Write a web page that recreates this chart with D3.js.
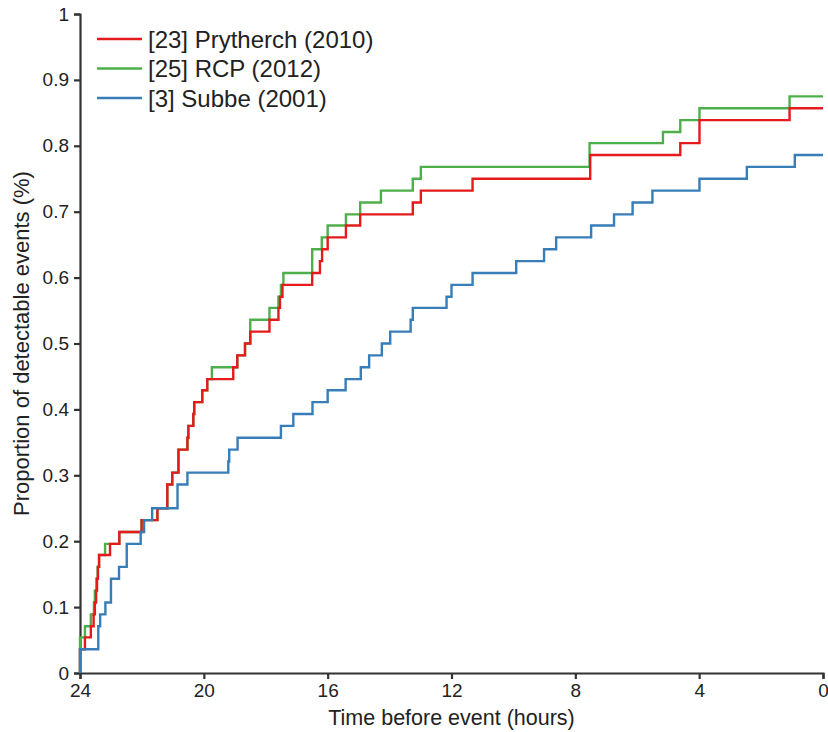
<!DOCTYPE html>
<html>
<head>
<meta charset="utf-8">
<script src="https://cdn.jsdelivr.net/npm/d3@7"></script>
<style>
  html, body { margin: 0; padding: 0; background: #fff; }
  svg { display: block; font-family: "Liberation Sans", Arial, Helvetica, sans-serif; }
</style>
</head>
<body>
<svg id="chart" width="828" height="732"></svg>
<script>
// Cumulative proportion of detectable events, by hours before the event.
// Each series: the times at which a step occurs and the level reached there.
const prytherchTimes = [24, 23.84, 23.65, 23.56, 23.52, 23.48, 23.45, 23.42, 23.38, 23.03, 22.73, 22.01,
  21.50, 21.18, 21.02, 20.82, 20.53, 20.50, 20.34, 20.31, 20.05, 19.89, 19.05, 18.92, 18.67, 18.50,
  17.88, 17.59, 17.54, 17.46, 16.50, 16.25, 16.18, 16.00, 15.41, 14.95, 13.25, 12.99, 11.32, 7.52,
  4.61, 3.99, 1.08];
const prytherchValues = [0.036, 0.054, 0.071, 0.089, 0.107, 0.125, 0.143, 0.161, 0.179, 0.196, 0.214, 0.232,
  0.250, 0.286, 0.304, 0.339, 0.357, 0.375, 0.393, 0.411, 0.429, 0.446, 0.464, 0.482, 0.500, 0.518,
  0.536, 0.554, 0.571, 0.589, 0.607, 0.625, 0.643, 0.661, 0.679, 0.696, 0.714, 0.732, 0.750, 0.786,
  0.804, 0.839, 0.857];

const rcpTimes = [24, 23.84, 23.65, 23.55, 23.52, 23.47, 23.43, 23.39, 23.19, 22.73, 22.01,
  21.50, 21.18, 21.02, 20.82, 20.53, 20.50, 20.34, 20.31, 20.05, 19.89, 19.74, 18.92, 18.67, 18.50,
  17.88, 17.59, 17.51, 17.43, 16.50, 16.19, 16.00, 15.41, 14.95, 14.28, 13.25, 12.99, 7.54,
  5.17, 4.61, 3.99, 1.08];
const rcpValues = [0.054, 0.071, 0.089, 0.107, 0.125, 0.143, 0.161, 0.179, 0.196, 0.214, 0.232,
  0.250, 0.286, 0.304, 0.339, 0.357, 0.375, 0.393, 0.411, 0.429, 0.446, 0.464, 0.482, 0.500, 0.536,
  0.554, 0.571, 0.589, 0.607, 0.643, 0.661, 0.679, 0.696, 0.714, 0.732, 0.750, 0.768, 0.804,
  0.821, 0.839, 0.857, 0.875];

const subbeTimes = [24, 23.41, 23.35, 23.18, 23.00, 22.74, 22.49, 22.04, 21.93, 21.67, 20.85, 20.53,
  19.21, 19.18, 18.91, 17.51, 17.11, 16.49, 16.00, 15.42, 14.93, 14.66, 14.25, 13.98, 13.32, 13.25,
  12.16, 12.00, 11.32, 9.91, 9.01, 8.62, 7.49, 6.75, 6.15, 5.51, 3.99, 2.46, 0.91];
const subbeValues = [0.036, 0.071, 0.089, 0.107, 0.143, 0.161, 0.196, 0.214, 0.232, 0.250, 0.286, 0.304,
  0.321, 0.339, 0.357, 0.375, 0.393, 0.411, 0.429, 0.446, 0.464, 0.482, 0.500, 0.518, 0.536, 0.554,
  0.571, 0.589, 0.607, 0.625, 0.643, 0.661, 0.679, 0.696, 0.714, 0.732, 0.750, 0.768, 0.786];

const seriesNames = ["[23] Prytherch (2010)", "[25] RCP (2012)", "[3] Subbe (2001)"];
const seriesColors = ["#e41a1c", "#4daf4a", "#377eb8"];

const xTicks = [24, 20, 16, 12, 8, 4, 0];
const yTicks = [0, 0.1, 0.2, 0.3, 0.4, 0.5, 0.6, 0.7, 0.8, 0.9, 1];
const xTitle = "Time before event (hours)";
const yTitle = "Proportion of detectable events (%)";

const svg = d3.select("#chart");
const margin = { left: 80, right: 5, top: 14, bottom: 59 };
const W = 828, H = 732;

const x = d3.scaleLinear().domain([24, 0]).range([margin.left, W - margin.right]);
const y = d3.scaleLinear().domain([0, 1]).range([H - margin.bottom, margin.top]);

const axisColor = "#333";
const textColor = "#222";

// Axes
const xAxis = svg.append("g")
  .attr("transform", `translate(0,${y(0)})`)
  .call(d3.axisBottom(x).tickValues(xTicks).tickFormat(d3.format("d")).tickSizeOuter(0).tickSize(6).tickPadding(5));
const yAxis = svg.append("g")
  .attr("transform", `translate(${x(24)},0)`)
  .call(d3.axisLeft(y).tickValues(yTicks).tickFormat(d => d === 0 || d === 1 ? d3.format("d")(d) : d3.format(".1f")(d))
    .tickSizeOuter(0).tickSize(6).tickPadding(5));

[xAxis, yAxis].forEach(g => {
  g.select(".domain").attr("stroke", axisColor).attr("stroke-width", 2.2);
  g.selectAll(".tick line").attr("stroke", axisColor).attr("stroke-width", 2.2);
  g.selectAll(".tick text").attr("fill", textColor).attr("font-size", 19).attr("font-family", null);
});

// Axis titles
svg.append("text")
  .attr("x", (x(24) + x(0)) / 2).attr("y", 725)
  .attr("text-anchor", "middle").attr("fill", textColor).attr("font-size", 21.5)
  .text(xTitle);
svg.append("text")
  .attr("transform", `translate(29,${(y(0) + y(1)) / 2}) rotate(-90)`)
  .attr("text-anchor", "middle").attr("fill", textColor).attr("font-size", 22)
  .text(yTitle);

// Step lines (blue drawn last so it sits on top at the shared start)
const series = [
  { times: prytherchTimes, values: prytherchValues },
  { times: rcpTimes, values: rcpValues },
  { times: subbeTimes, values: subbeValues }
];
const line = d3.line().x(d => x(d[0])).y(d => y(d[1])).curve(d3.curveStepAfter);

const plotOrder = [1, 0, 2];
plotOrder.forEach(i => {
  const s = series[i];
  const pts = [[24, 0]];
  s.times.forEach((t, j) => pts.push([t, s.values[j]]));
  pts.push([0, s.values[s.values.length - 1]]);
  svg.append("path")
    .attr("d", line(pts))
    .attr("fill", "none")
    .attr("stroke", seriesColors[i])
    .attr("stroke-width", 2.4);
});

// Legend
const legend = svg.append("g");
seriesNames.forEach((name, i) => {
  const cy = 39 + i * 29.5;
  legend.append("line")
    .attr("x1", 97).attr("x2", 142).attr("y1", cy).attr("y2", cy)
    .attr("stroke", seriesColors[i]).attr("stroke-width", 2.4);
  legend.append("text")
    .attr("x", 148).attr("y", cy).attr("dy", "0.36em")
    .attr("fill", textColor).attr("font-size", 24)
    .text(name);
});
</script>
</body>
</html>
